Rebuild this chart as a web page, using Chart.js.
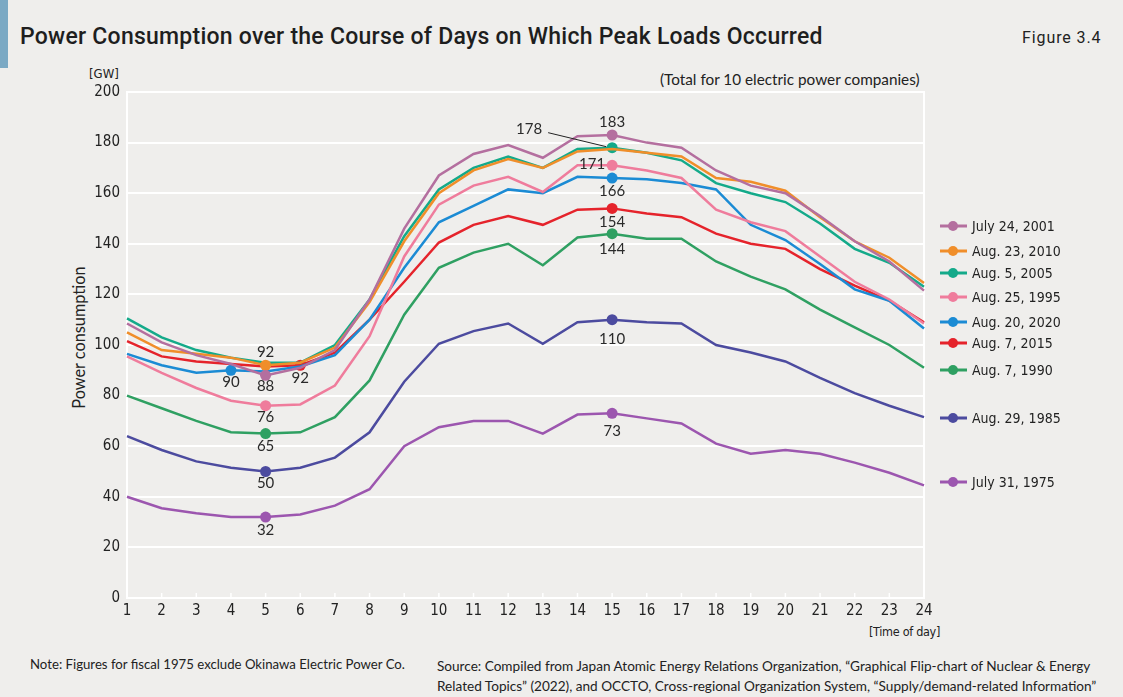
<!DOCTYPE html>
<html><head><meta charset="utf-8">
<script src="https://cdn.jsdelivr.net/npm/chart.js@4.4.1/dist/chart.umd.min.js"></script>
<style>
html,body{margin:0;padding:0;background:#efeeec;}
#wrap{position:relative;width:1123px;height:697px;overflow:hidden;background:#efeeec;}
#bar{position:absolute;left:0;top:0;width:8px;height:68px;background:#7ba9c4;}
.t{position:absolute;white-space:nowrap;color:#222;line-height:1;}
.cond{font-family:"DejaVu Sans Condensed","DejaVu Sans",sans-serif;font-stretch:condensed;}
#title{left:20px;top:23px;font:500 23px Roboto;letter-spacing:0.25px;color:#1e1e1e;}
#fig{left:1022px;top:28px;font:400 16px Roboto;letter-spacing:0.9px;}
#gw{left:89px;top:67px;font-size:13px;}
#total{left:660px;top:70px;font:15.3px Lato;}
#ytitle{left:78px;top:328px;font:16.3px Lato;transform:translate(-50%,0) rotate(-90deg);transform-origin:50% 50%;}
#tod{left:869px;top:626px;font-size:12.5px;letter-spacing:-0.3px;}
#note{left:30px;top:656px;font:13.2px Lato;}
#src{left:437px;top:656px;font:13.6px Lato;line-height:20px;}
#cv{position:absolute;left:0;top:0;}
</style></head>
<body>
<div id="wrap">
<div id="bar"></div>
<div class="t" id="title">Power Consumption over the Course of Days on Which Peak Loads Occurred</div>
<div class="t" id="fig">Figure 3.4</div>
<div class="t cond" id="gw">[GW]</div>
<div class="t" id="total">(Total for 10 electric power companies)</div>
<div class="t" id="ytitle">Power consumption</div>
<div class="t cond" id="tod">[Time of day]</div>
<div class="t" id="note">Note: Figures for fiscal 1975 exclude Okinawa Electric Power Co.</div>
<div class="t" id="src">Source: Compiled from Japan Atomic Energy Relations Organization, “Graphical Flip-chart of Nuclear &amp; Energy<br>Related Topics” (2022), and OCCTO, Cross-regional Organization System, “Supply/demand-related Information”</div>
<canvas id="cv" width="1123" height="697"></canvas>
</div>
<script>
// ---- data ----
const hours = ['1','2','3','4','5','6','7','8','9','10','11','12','13','14','15','16','17','18','19','20','21','22','23','24'];
const seriesNames = ['July 24, 2001','Aug. 23, 2010','Aug. 5, 2005','Aug. 25, 1995','Aug. 20, 2020','Aug. 7, 2015','Aug. 7, 1990','Aug. 29, 1985','July 31, 1975'];
const d2001 = [108.5,101,96,92.5,88,91,98,118,146,167,175.5,179,174,182.5,183,180,178,169,163,160,151,141,133,121.5];
const d2010 = [105,98,96.5,95,92,93,99,117,141,160,169,173.5,170,176.5,177.5,176,174.5,166,164.5,161,150.5,141,134.5,124.5];
const d2005 = [110.5,103,98,95,93,93,100,118,143,161.5,170,174.5,170,177.5,178,176,173,164,160,156.5,148,138,132.5,123];
const d1995 = [95.5,89,83,78,76,76.5,84,103.5,135,155.5,163,166.5,160.5,171,171,169,166,153.5,148.5,145,135,125,118,108.5];
const d2020 = [96.5,92,89,90,89.5,91.5,96,110,130.5,148.5,155,161.5,160,166.5,166,165.5,164,161.5,147.5,141.5,132,122,117.5,106.5];
const d2015 = [101.5,95.5,93.5,92.5,91.5,92,97,110,125,140.5,147.5,151,147.5,153.5,154,152,150.5,144,140,138,130,123.5,117.5,109];
const d1990 = [80,75,70,65.5,65,65.5,71.5,86,112,130.5,136.5,140,131.5,142.5,144,142,142,133,127,122,114,107,100,91];
const d1985 = [64,58.5,54,51.5,50,51.5,55.5,65.5,85.5,100.5,105.5,108.5,100.5,109,110,109,108.5,100,97,93.5,87,81,76,71.5];
const d1975 = [40,35.5,33.5,32,32,33,36.5,43,60,67.5,70,70,65,72.5,73,71,69,61,57,58.5,57,53.5,49.5,44.5];
const seriesData = [d2001,d2010,d2005,d1995,d2020,d2015,d1990,d1985,d1975];
// hours (1-based) that carry a marked, labelled point in each series
const markedHours = [[5,15],[5],[15],[5,15],[4,15],[6,15],[5,15],[5,15],[5,15]];
const yTicks = [0,20,40,60,80,100,120,140,160,180,200];

// ---- styles ----
const condFont = '"DejaVu Sans Condensed", "DejaVu Sans", sans-serif';
const colors = ['#b46f9f','#f08e2a','#14aa8a','#ef7c9c','#1b8bd4','#e5232b','#2fa062','#4c4b9f','#9c56af'];
// label placement per marked point: [series, hour, mode, dx, dy]
const labelPlace = [
  [0,5,'c',0,11],[0,15,'c',0,-13],
  [1,5,'c',0,-13],
  [2,15,'lead',0,0],
  [3,5,'c',0,11],[3,15,'r',-7,-1],
  [4,4,'c',0,12],[4,15,'c',0,13],
  [5,6,'c',0,13],[5,15,'c',0,14],
  [6,5,'c',0,13],[6,15,'c',0,15],
  [7,5,'c',0,12],[7,15,'c',0,19],
  [8,5,'c',0,13],[8,15,'c',0,18]
];
const legendY = [226,251,273,297,322,343,370,418,482];

const datasets = seriesData.map((d,i)=>({
  label: seriesNames[i],
  data: d,
  borderColor: colors[i],
  backgroundColor: colors[i],
  borderWidth: 2.5,
  tension: 0,
  pointRadius: d.map((v,k)=> markedHours[i].includes(k+1) ? 5.5 : 0),
  pointBackgroundColor: colors[i],
  pointBorderWidth: 0,
  pointHoverRadius: 0
}));

const decor = {
  id:'decor',
  beforeDatasetsDraw(chart){
    const ctx=chart.ctx, ca=chart.chartArea, xs=chart.scales.x;
    ctx.save();
    ctx.strokeStyle='#ffffff'; ctx.lineWidth=2;
    ctx.beginPath(); ctx.moveTo(ca.right, ca.top-1); ctx.lineTo(ca.right, ca.bottom); ctx.stroke();
    ctx.lineWidth=1.5;
    for(let k=1;k<hours.length-1;k++){
      const x=xs.getPixelForTick(k);
      ctx.beginPath(); ctx.moveTo(x, ca.bottom); ctx.lineTo(x, ca.bottom-5); ctx.stroke();
    }
    ctx.restore();
  },
  afterDatasetsDraw(chart){
    const ctx=chart.ctx;
    ctx.save();
    ctx.font='15px Lato'; ctx.fillStyle='#2a2a2a'; ctx.textBaseline='middle';
    labelPlace.forEach(([s,h,mode,dx,dy])=>{
      const el=chart.getDatasetMeta(s).data[h-1];
      const txt=String(Math.round(seriesData[s][h-1]));
      if(mode==='c'){ ctx.textAlign='center'; ctx.fillText(txt, el.x+dx, el.y+dy); }
      else if(mode==='r'){ ctx.textAlign='right'; ctx.fillText(txt, el.x+dx, el.y+dy); }
      else if(mode==='lead'){
        ctx.textAlign='center'; ctx.fillText(txt, el.x-83, el.y-19);
        ctx.strokeStyle='#222'; ctx.lineWidth=1;
        ctx.beginPath(); ctx.moveTo(el.x-64, el.y-15); ctx.lineTo(el.x-6, el.y-1); ctx.stroke();
      }
    });
    // legend
    ctx.font='14px ' + condFont; ctx.textAlign='left'; ctx.fillStyle='#222';
    seriesNames.forEach((n,i)=>{
      const y=legendY[i];
      ctx.strokeStyle=colors[i]; ctx.lineWidth=3;
      ctx.beginPath(); ctx.moveTo(940,y); ctx.lineTo(967,y); ctx.stroke();
      ctx.fillStyle=colors[i]; ctx.beginPath(); ctx.arc(953,y,5,0,Math.PI*2); ctx.fill();
      ctx.fillStyle='#222'; ctx.fillText(n, 972, y+1);
    });
    ctx.restore();
  }
};

new Chart(document.getElementById('cv'), {
  type:'line',
  data:{ labels: hours, datasets },
  options:{
    responsive:false, animation:false, devicePixelRatio:1,
    layout:{ padding:{ top:92, right:199, bottom:69, left:0 } },
    plugins:{ legend:{display:false}, tooltip:{enabled:false} },
    scales:{
      x:{
        type:'category', offset:false,
        grid:{ display:true, drawOnChartArea:false, drawTicks:false, color:'rgba(0,0,0,0)' },
        border:{ display:true, color:'#ffffff', width:2 },
        ticks:{ font:{family:condFont, size:15}, color:'#222', padding:4, maxRotation:0, autoSkip:false },
        afterFit(s){ s.height=30; }
      },
      y:{
        min:0, max:200,
        afterBuildTicks(s){ s.ticks = yTicks.map(v=>({value:v})); },
        grid:{ color:'#ffffff', lineWidth:2, drawTicks:false },
        border:{ display:true, color:'#ffffff', width:2 },
        ticks:{ font:{family:condFont, size:15}, color:'#222', padding:7 },
        afterFit(s){ s.width=127; }
      }
    }
  },
  plugins:[decor]
});
</script>
</body></html>
